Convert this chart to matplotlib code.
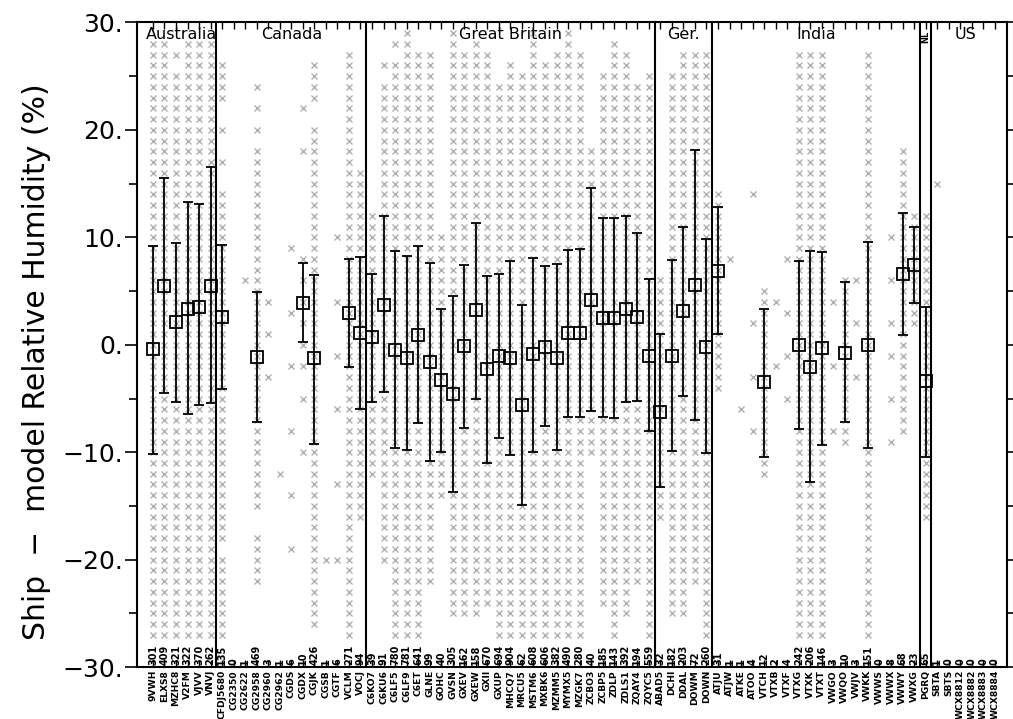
import numpy as np
import matplotlib.pyplot as plt
from matplotlib.ticker import MultipleLocator, FuncFormatter

# ship call signs, grouped by country
ships = ['9VWH', 'ELXS8', 'MZHC8', 'V2FM', 'VJVV', 'VNVJ',
         'CFDJ5680', 'CG2350', 'CG2622', 'CG2958', 'CG2960', 'CG2962', 'CGDS',
         'CGDX', 'CGJK', 'CGSB', 'CGTF', 'VCLM', 'VOCJ',
         'C6KO7', 'C6KU6', 'C6LF5', 'C6LF9', 'C6ET', 'GLNE', 'GOHC', 'GVSN',
         'GXEV', 'GXEW', 'GXII', 'GXUP', 'MHCQ7', 'MRCU5', 'MSTM6', 'MXBK6',
         'MZMM5', 'MYMX5', 'MZGK7', 'ZCBO3', 'ZCBP5', 'ZDLP', 'ZDLS1', 'ZQAY4', 'ZQYC5',
         'ABAD5', 'DCHI', 'DDAL', 'DOWM', 'DOWN',
         'ATJU', 'ATJW', 'ATKE', 'ATOO', 'VTCH', 'VTXB', 'VTXF', 'VTXG', 'VTXK',
         'VTXT', 'VWGO', 'VWQO', 'VWJV', 'VWKK', 'VWWS', 'VWWX', 'VWWY', 'VWXG',
         'PGRQ',
         'SBTA', 'SBTS', 'WCX8812', 'WCX8882', 'WCX8883', 'WCX8884']

groups = ['Australia', 'Canada', 'Great Britain', 'Ger.', 'India', 'NL', 'US']
group_size = [6, 13, 25, 5, 18, 1, 6]

counts = [301, 409, 321, 322, 370, 262,
          135, 0, 1, 469, 3, 1, 6, 10, 426, 1, 6, 271, 94,
          39, 91, 780, 781, 641, 99, 40, 305, 162, 158, 670, 694, 904, 62, 608,
          606, 382, 490, 280, 40, 185, 143, 392, 194, 559,
          32, 182, 203, 72, 260,
          31, 1, 1, 4, 12, 2, 4, 242, 206, 146, 3, 10, 3, 151, 0, 8, 68, 23,
          65,
          1, 0, 0, 0, 0, 0]

nan = np.nan
means = [-0.4, 5.5, 2.1, 3.3, 3.5, 5.5,
         2.6, nan, nan, -1.1, nan, nan, nan, 3.9, -1.2, nan, nan, 3.0, 1.1,
         0.7, 3.7, -0.5, -1.2, 0.9, -1.6, -3.3, -4.6, -0.1, 3.2, -2.3, -1.0, -1.2,
         -5.6, -0.9, -0.2, -1.2, 1.1, 1.1, 4.2, 2.5, 2.5, 3.3, 2.6, -1.0,
         -6.3, -1.0, 3.1, 5.6, -0.2,
         6.9, nan, nan, nan, -3.5, nan, nan, 0.0, -2.1, -0.3, nan, -0.8, nan, 0.0,
         nan, nan, 6.6, 7.4,
         -3.4,
         nan, nan, nan, nan, nan, nan]
upper = [9.2, 15.5, 9.5, 13.3, 13.1, 16.5,
         9.3, nan, nan, 4.9, nan, nan, nan, 7.6, 6.5, nan, nan, 8.0, 8.2,
         6.6, 12.0, 8.7, 8.3, 9.2, 7.6, 3.3, 4.5, 7.4, 11.3, 6.4, 6.6, 7.8,
         3.7, 8.1, 7.3, 7.5, 8.8, 8.9, 14.6, 11.8, 11.8, 12.0, 10.4, 6.1,
         1.0, 7.9, 11.0, 18.1, 9.8,
         12.8, nan, nan, nan, 3.3, nan, nan, 7.8, 8.7, 8.6, nan, 5.8, nan, 9.6,
         nan, nan, 12.3, 11.0,
         3.5,
         nan, nan, nan, nan, nan, nan]
lower = [-10.2, -4.5, -5.3, -6.4, -5.6, -5.4,
         -4.1, nan, nan, -7.2, nan, nan, nan, 0.3, -9.2, nan, nan, -2.1, -6.0,
         -5.3, -4.4, -9.6, -9.8, -7.3, -10.8, -10.0, -13.7, -7.7, -5.0, -11.0, -8.7, -10.3,
         -14.9, -10.0, -7.6, -9.8, -6.7, -6.7, -6.2, -6.7, -6.8, -5.3, -5.2, -8.0,
         -13.2, -9.9, -4.8, -7.0, -10.1,
         1.0, nan, nan, nan, -10.4, nan, nan, -7.8, -12.8, -9.3, nan, -7.2, nan, -9.6,
         nan, nan, 0.9, 3.9,
         -10.4,
         nan, nan, nan, nan, nan, nan]

# individual differences (integer %), "a:b" = every value from a to b
points = ['-27:28', '-27:28', '-27:25,27', '-27:28', '-27:28', '-27:28',
          '-27:-20,-18:14,17,20,23:26', '', '6', '-22:-18,-15:18,20,22,24', '4,1,-3', '-12',
          '9,3,-2,-8,-14,-19',
          '8,6,4,2,0,-2,-5,22,18,-10', '-26:20,23:26', '-20', '10,4,-1,-6,-13,-20',
          '-27:27', '-16:16',
          '-12:12', '-20:24,26', '-27:26,28', '-27:29', '-27:27', '-22:27', '-14:10',
          '-25:29', '-25:27', '-25:28', '-24:27', '-27:24', '-27:26', '-27:25', '-27:29',
          '-27:26', '-27:27', '-27:29', '-27:27', '-10:18', '-24:25', '-27:28', '-25:27',
          '-22:24', '-27:25',
          '-16:6', '-25:25', '-25:27', '-22:27', '-27:27',
          '-4:14', '8', '-6', '2,-3,-8,14', '-12:5', '4,-2', '3,-1,-5,8', '-27:27',
          '-27:27', '-27:27', '4,-2,-8', '-9:6', '2,-3,6', '-27:27', '', '10,6,2,-1,-5,-9',
          '-8:18', '2:12',
          '-16:12',
          '15', '', '', '', '', '']


def parse(s):
    vals = []
    for part in s.split(','):
        if part == '':
            continue
        if ':' in part[1:]:
            k = part.index(':', 1)
            vals += list(range(int(part[:k]), int(part[k + 1:]) + 1))
        else:
            vals.append(int(part))
    return vals


x = np.arange(len(ships))
means = np.array(means)
upper = np.array(upper)
lower = np.array(lower)

fig = plt.figure(figsize=(10.13, 7.19), dpi=100)
ax = fig.add_axes([0.135, 0.072, 0.859, 0.897])

for i, s in enumerate(points):
    v = parse(s)
    if v:
        ax.plot(np.full(len(v), i), v, 'x', color='#b0b0b0', ms=3.8, mew=1.0, zorder=1)

ok = ~np.isnan(means)
ax.errorbar(x[ok], means[ok], yerr=[means[ok] - lower[ok], upper[ok] - means[ok]],
            fmt='s', mfc='none', mec='black', ms=9, mew=1.3, ecolor='black',
            elinewidth=1.3, capsize=3.5, capthick=1.3, zorder=3)

# country boxes
edges = np.cumsum(group_size)
start = 0
for name, e in zip(groups, edges):
    if e < len(ships):
        ax.axvline(e - 0.5, color='black', lw=1.5, zorder=4)
    mid = (start + e - 1) / 2.0
    if name == 'NL':
        ax.text(mid, 28.6, name, ha='center', va='center', rotation=90,
                fontsize=6, fontweight='bold')
    else:
        ax.text(mid, 28.9, name, ha='center', va='center', fontsize=11.5)
    start = e

for i, c in enumerate(counts):
    ax.text(i, -29.75, str(c), rotation=90, ha='center', va='bottom',
            fontsize=7, fontweight='bold')

ax.set_xlim(-1.4, 74.05)
ax.set_ylim(-30, 30)
ax.set_xticks(x)
ax.set_xticklabels(ships, rotation=90, fontsize=6.6, fontweight='bold')
ax.tick_params(axis='x', direction='in', top=True, length=5, width=1, pad=2)
ax.yaxis.set_major_locator(MultipleLocator(10))
ax.yaxis.set_minor_locator(MultipleLocator(5))
ax.yaxis.set_major_formatter(FuncFormatter(lambda v, p: ('%d.' % v).replace('-', '\u2212')))
ax.tick_params(axis='y', which='both', direction='out', right=True, labelsize=18,
               width=1.2, pad=1)
ax.tick_params(axis='y', which='major', length=9)
ax.tick_params(axis='y', which='minor', length=6)
for sp in ax.spines.values():
    sp.set_linewidth(1.5)
ax.set_ylabel('Ship  \u2212  model Relative Humidity (%)', fontsize=21.5)
ax.yaxis.set_label_coords(-0.098, 0.474)

plt.savefig('out.png', dpi=100)
